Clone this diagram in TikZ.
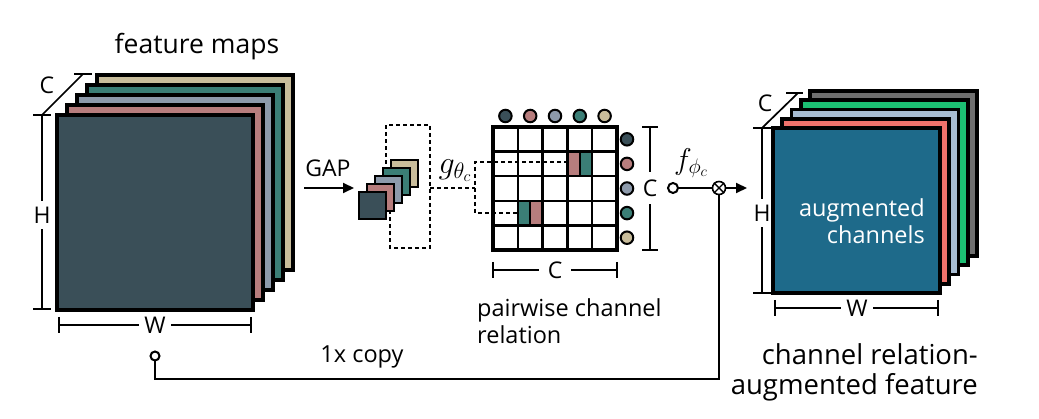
\RequirePackage{fix-cm}
\documentclass[tikz,border=0pt]{standalone}
\usepackage{fontspec}
\setmainfont{Open Sans}
\usetikzlibrary{arrows.meta,calc}
\definecolor{lA}{HTML}{3A4F58}
\definecolor{lB}{HTML}{B77D7D}
\definecolor{lC}{HTML}{8D9AAB}
\definecolor{lD}{HTML}{3B7E76}
\definecolor{lE}{HTML}{C9BD9B}
\definecolor{rA}{HTML}{1E6A8A}
\definecolor{rB}{HTML}{F0726B}
\definecolor{rC}{HTML}{A8BDD3}
\definecolor{rD}{HTML}{1CBF73}
\definecolor{rE}{HTML}{6F6F6F}
\tikzset{
  layer/.style={draw=black,line width=4,line join=miter},
  rlayer/.style={draw=black,line width=3.6,line join=miter},
  sq/.style={draw=black,line width=2.4},
  dim/.style={draw=black,line width=1.7},
  dlabel/.style={fill=white,inner sep=2,font=\fontsize{23}{27}\selectfont},
  txt/.style={inner sep=0,font=\fontsize{23.5}{27}\selectfont},
  bigtxt/.style={inner sep=0,font=\fontsize{27.5}{30}\selectfont},
  dot/.style={circle,draw=black,line width=2,minimum size=12.5,inner sep=0},
  dsh/.style={draw=black,line width=1.5,dash pattern=on 4 off 3},
  conn/.style={draw=black,line width=2},
  tip/.style={-{Triangle[length=11pt,width=10pt]}}
}
\begin{document}
\begin{tikzpicture}[x=1pt,y=-1pt]
\useasboundingbox (0,0) rectangle (1039,419);
\fill[white] (0,0) rectangle (1039,419);

% ---- left feature maps
\foreach \c [count=\i from 0] in {lE,lD,lC,lB,lA}{
  \draw[layer,fill=\c] ({57+(4-\i)*10},{115-(4-\i)*10}) rectangle ++(196,195);
}
\node[anchor=base,inner sep=0,font=\fontsize{26.5}{30}\selectfont] (fmlabel) at (197,54) {feature maps};
% C dim
\draw[dim] (42,115) -- (83,74);
\draw[dim] (74,74) -- (92,74);
\node[dlabel,fill=none] (lC) at (47,85) {C};
% H dim
\draw[dim] (42,115) -- (42,309);
\draw[dim] (33,115) -- (51,115);
\draw[dim] (33,309) -- (51,309);
\node[dlabel,inner ysep=6] (lH) at (42,215) {H};
% W dim
\draw[dim] (59,325) -- (251,325);
\draw[dim] (59,317) -- (59,333);
\draw[dim] (251,317) -- (251,333);
\node[dlabel,inner xsep=5] (lW) at (155,325) {W};

% ---- GAP
\coordinate (gapS) at (304,188);
\coordinate (gapE) at (354,188);
\draw[conn,tip] (gapS) -- (gapE);
\node[inner sep=0,font=\fontsize{23}{27}\selectfont] (gap) at (328,168) {GAP};

% dashed box behind squares
\draw[dsh] (386,185) -- (386,125) -- (430,125) -- (430,248) -- (390,248) -- (390,205);
% small squares
\foreach \c [count=\i from 0] in {lE,lD,lC,lB,lA}{
  \draw[sq,fill=\c] ({359+(4-\i)*8},{192-(4-\i)*8}) rectangle ++(27,27);
}
% dashed bracket
\draw[dsh] (430,188) -- (475,188);
\draw[dsh] (568,162) -- (475,162) -- (475,213) -- (519,213);
\node[inner sep=0,font=\fontsize{32}{38}\selectfont] (g) at (455,171) {$g_{\theta_c}$};

% ---- matrix
\fill[lB] (567.4,151.6) rectangle (579.8,176.2);
\fill[lD] (579.8,151.6) rectangle (592.2,176.2);
\fill[lD] (517.8,200.8) rectangle (530.2,225.4);
\fill[lB] (530.2,200.8) rectangle (542.6,225.4);
\draw[line width=2.4] (579.8,151.6) -- (579.8,176.2);
\draw[line width=2.4] (530.2,200.8) -- (530.2,225.4);
\foreach \k in {1,2,3,4}{
  \draw[line width=2.4] ({493+\k*24.8},127) -- ({493+\k*24.8},250);
  \draw[line width=2.4] (493,{127+\k*24.6}) -- (617,{127+\k*24.6});
}
\draw[line width=3.6] (493,127) rectangle (617,250);
% dots
\foreach \c [count=\i from 0] in {lA,lB,lC,lD,lE}{
  \node[dot,fill=\c] (top\i) at ({505.4+\i*24.8},116) {};
  \node[dot,fill=\c] (side\i) at (627,{139.3+\i*24.6}) {};
}
% C dims of matrix
\draw[dim] (650,127) -- (650,250);
\draw[dim] (642,127) -- (658,127);
\draw[dim] (642,250) -- (658,250);
\node[dlabel,inner sep=4,inner ysep=8] (mC) at (650,188) {C};
\draw[dim] (493,270) -- (617,270);
\draw[dim] (493,262) -- (493,278);
\draw[dim] (617,262) -- (617,278);
\node[dlabel,inner xsep=9] (mC2) at (555,270) {C};
\node[txt,anchor=north west,align=left] (pw) at (477,298) {pairwise channel\\relation};

% ---- f branch
\node[circle,draw=black,line width=2,fill=white,minimum size=10,inner sep=0] (fs) at (673,188) {};
\node[circle,draw=black,line width=1.6,fill=white,minimum size=13,inner sep=0] (mul) at (719,188) {};
\draw[line width=1.4] (mul.north west) -- (mul.south east);
\draw[line width=1.4] (mul.north east) -- (mul.south west);
\node[inner sep=0,font=\fontsize{30}{36}\selectfont] (f) at (691,163) {$f_{\phi_c}$};
\coordinate (arrE) at (747,188);
\draw[conn] (fs) -- (mul);
\draw[conn,tip] (mul) -- (arrE);
% copy path
\node[circle,draw=black,line width=2,fill=white,minimum size=9,inner sep=0] (cp) at (155,356) {};
\coordinate (bot) at (0,379);
\draw[conn] (mul.south) -- (mul.south |- bot) -| (cp.south);
\node[txt,anchor=base] (copy) at (362,363) {1x copy};

% ---- right feature maps: dimensions first
\draw[dim] (762,128) -- (798,93);
\draw[dim] (786,93) -- (803,93);
\node[dlabel,fill=none] (rC) at (765,103) {C};
\draw[dim] (762,128) -- (762,293);
\draw[dim] (753,128) -- (771,128);
\draw[dim] (753,293) -- (771,293);
\node[dlabel,inner ysep=6] (rH) at (762,213) {H};
\draw[dim] (775,308) -- (938,308);
\draw[dim] (775,300) -- (775,316);
\draw[dim] (938,300) -- (938,316);
\node[dlabel,inner xsep=5] (rW) at (857,308) {W};
\foreach \c [count=\i from 0] in {rE,rD,rC,rB,rA}{
  \draw[rlayer,fill=\c] ({773+(4-\i)*9.25},{128-(4-\i)*9.25}) rectangle ++(167,165);
}
\node[txt,anchor=north east,align=right,text=white] (aug) at (925,198) {augmented\\channels};
\node[bigtxt,anchor=north east,align=right] (crf) at (978,343) {channel relation-\\augmented feature};
\end{tikzpicture}
\end{document}
